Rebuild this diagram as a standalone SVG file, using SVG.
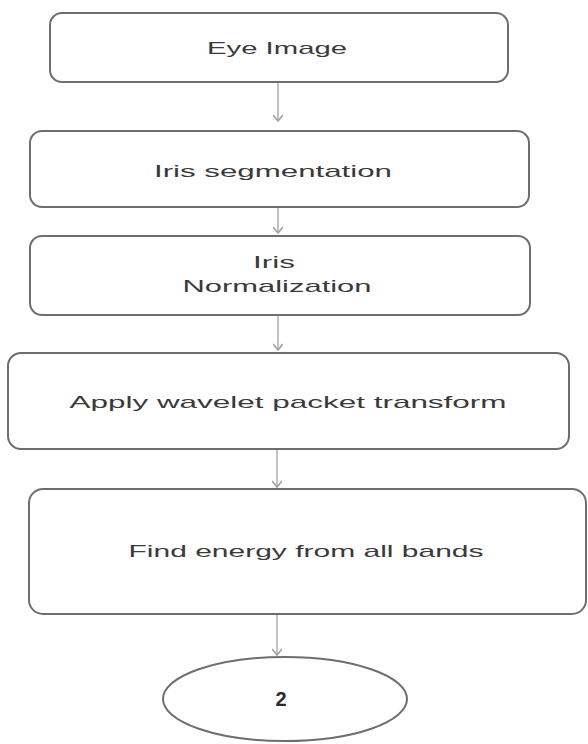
<svg xmlns="http://www.w3.org/2000/svg" width="588" height="744" viewBox="0 0 588 744">
  <style>
    .box { fill: #ffffff; stroke: #6e6e6e; stroke-width: 2; }
    .lbl { font-family: "Liberation Sans", Arial, sans-serif; font-size: 17px; fill: #3a3a3a; text-anchor: middle; }
    .num { font-family: "Liberation Sans", Arial, sans-serif; font-size: 20px; font-weight: bold; fill: #2a2a2a; text-anchor: middle; }
    .conn { stroke: #a8a8a8; stroke-width: 1.4; fill: none; marker-end: url(#head); }
  </style>
  <defs>
    <!-- small open chevron, drawn along +x so orient="auto" points it down the line -->
    <marker id="head" viewBox="0 0 10 10" refX="8" refY="5" markerWidth="10" markerHeight="10" markerUnits="userSpaceOnUse" orient="auto">
      <path d="M2,0 L8,5 L2,10" fill="none" stroke="#a0a0a0" stroke-width="1.6"/>
    </marker>
  </defs>
  <rect width="588" height="744" fill="#ffffff"/>

  <g id="connectors">
    <line class="conn" x1="278" y1="83" x2="278" y2="121"/>
    <line class="conn" x1="278" y1="208" x2="278" y2="233"/>
    <line class="conn" x1="278" y1="316" x2="278" y2="350"/>
    <line class="conn" x1="277" y1="450" x2="277" y2="487"/>
    <line class="conn" x1="277" y1="614" x2="277" y2="655"/>
  </g>

  <g id="eye-image">
    <rect class="box" x="50" y="13" width="458" height="69" rx="12"/>
    <text class="lbl" x="277" y="54" textLength="140" lengthAdjust="spacingAndGlyphs">Eye Image</text>
  </g>

  <g id="iris-segmentation">
    <rect class="box" x="30" y="131" width="499" height="76" rx="12"/>
    <text class="lbl" x="273" y="177" textLength="238" lengthAdjust="spacingAndGlyphs">Iris segmentation</text>
  </g>

  <g id="iris-normalization">
    <rect class="box" x="30" y="236" width="500" height="79" rx="12"/>
    <text class="lbl" x="274" y="268" textLength="42" lengthAdjust="spacingAndGlyphs">Iris</text>
    <text class="lbl" x="277" y="292" textLength="189" lengthAdjust="spacingAndGlyphs">Normalization</text>
  </g>

  <g id="wavelet-packet">
    <rect class="box" x="8" y="353" width="561" height="96" rx="13"/>
    <text class="lbl" x="288" y="408" textLength="437" lengthAdjust="spacingAndGlyphs">Apply wavelet packet transform</text>
  </g>

  <g id="band-energy">
    <rect class="box" x="29" y="489" width="557" height="125" rx="14"/>
    <text class="lbl" x="306" y="557" textLength="355" lengthAdjust="spacingAndGlyphs">Find energy from all bands</text>
  </g>

  <g id="connector-2">
    <ellipse class="box" cx="285" cy="699" rx="122" ry="42"/>
    <text class="num" x="281" y="706">2</text>
  </g>
</svg>
